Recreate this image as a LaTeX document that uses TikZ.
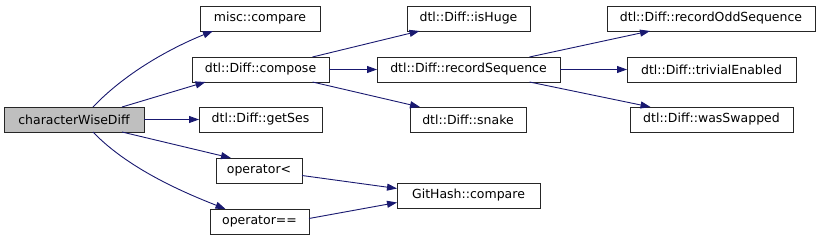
\documentclass[tikz,border=0pt]{standalone}
\usepackage{fontspec}
\setmainfont{DejaVu Sans}
\usepackage{tikz}
\usetikzlibrary{arrows.meta, positioning}

\definecolor{edgeBlue}{HTML}{191970}
\definecolor{rootGray}{HTML}{BFBFBF}

\begin{document}
\begin{tikzpicture}[
  x=1pt, y=-1pt,
  font=\fontsize{12.5}{15}\selectfont,
  fn/.style={
    draw=black!85, line width=0.9pt, fill=white,
    minimum height=25pt, inner sep=0pt, outer sep=0pt, align=center
  },
  fnRoot/.style={fn, fill=rootGray},
  call/.style={
    draw=edgeBlue, line width=0.9pt,
    -{Triangle[length=10pt, width=7pt, fill=edgeBlue]}
  }
]
\useasboundingbox (0,0) rectangle (821,240);

% caller
\node[fnRoot, minimum width=140pt] (cwd) at (74,119.5) {characterWiseDiff};

% first rank
\node[fn, minimum width=120pt] (miscCmp) at (260,18.5) {misc::compare};
\node[fn, minimum width=137pt] (compose) at (260.5,69.5) {dtl::Diff::compose};
\node[fn, minimum width=123pt] (getSes) at (260.5,119.5) {dtl::Diff::getSes};
\node[fn, minimum width=86pt] (opLess) at (259,170.5) {operator<};
\node[fn, minimum width=99pt] (opEq) at (259.5,221.5) {operator==};

% second rank
\node[fn, minimum width=123pt] (isHuge) at (468.5,18.5) {dtl::Diff::isHuge};
\node[fn, minimum width=183pt] (recSeq) at (468.5,69.5) {dtl::Diff::recordSequence};
\node[fn, minimum width=116pt] (snake) at (468,119.5) {dtl::Diff::snake};
\node[fn, minimum width=143pt] (gitCmp) at (468.5,195.5) {GitHash::compare};

% third rank
\node[fn, minimum width=208pt] (recOdd) at (711,18.5) {dtl::Diff::recordOddSequence};
\node[fn, minimum width=169pt] (trivial) at (711.5,69.5) {dtl::Diff::trivialEnabled};
\node[fn, minimum width=163pt] (swapped) at (711.5,119.5) {dtl::Diff::wasSwapped};

% calls from characterWiseDiff
\draw[call] ([xshift=19pt]cwd.north) .. controls +(38,-40) and +(-30,12) .. ([xshift=-47pt]miscCmp.south);
\draw[call] ([xshift=48pt]cwd.north) -- ([xshift=-55pt]compose.south);
\draw[call] (cwd.east) -- (getSes.west);
\draw[call] ([xshift=48pt]cwd.south) -- ([xshift=-28pt]opLess.north);
\draw[call] ([xshift=19pt]cwd.south) .. controls +(38,40) and +(-30,-12) .. ([xshift=-34pt]opEq.north);

% calls from compose
\draw[call] ([xshift=52pt]compose.north) -- ([xshift=-49pt]isHuge.south);
\draw[call] (compose.east) -- (recSeq.west);
\draw[call] ([xshift=52pt]compose.south) -- ([xshift=-48pt]snake.north);

% calls from recordSequence
\draw[call] ([xshift=61pt]recSeq.north) -- ([xshift=-61pt]recOdd.south);
\draw[call] (recSeq.east) -- (trivial.west);
\draw[call] ([xshift=61pt]recSeq.south) -- ([xshift=-61pt]swapped.north);

% operators
\draw[call] ([yshift=-5pt]opLess.east) -- ([yshift=7pt]gitCmp.west);
\draw[call] ([yshift=3pt]opEq.east) -- ([yshift=-7pt]gitCmp.west);
\end{tikzpicture}
\end{document}
